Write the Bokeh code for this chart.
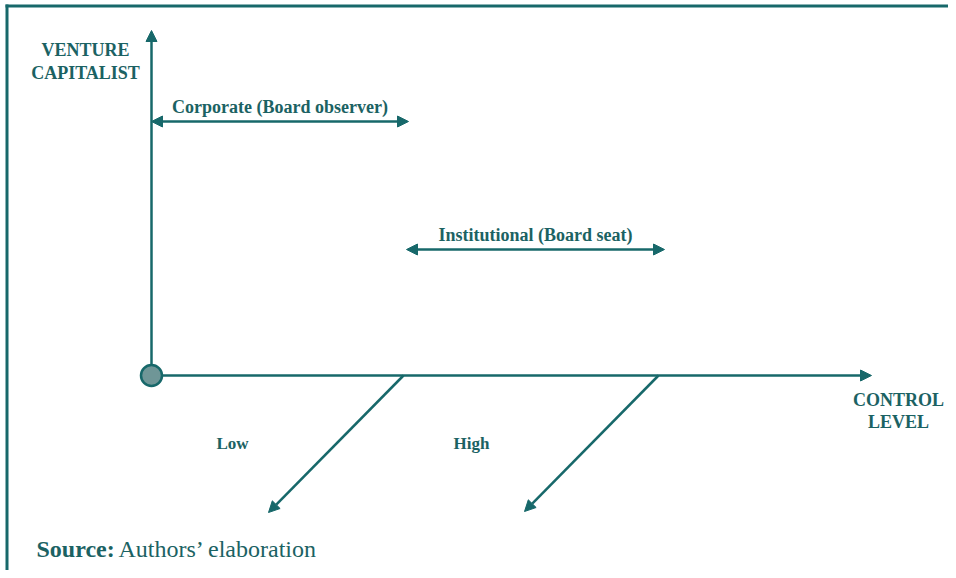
from bokeh.plotting import figure
from bokeh.models import Range1d, Arrow, NormalHead
from bokeh.core.properties import value
from bokeh.embed import file_html
from bokeh.resources import INLINE

# ---- diagram data (origin = intersection of the two axes) ----
axis_x_end = [0, 720]          # control level axis (x from, x to)
axis_y_end = [0, 345]          # venture capitalist axis (y from, y to)

range_labels = ["Corporate (Board observer)", "Institutional (Board seat)"]
range_x0 = [0, 255]
range_x1 = [257, 513]
range_y = [254, 126]

diag_x0 = [252, 507]
diag_y0 = [0, 0]
diag_x1 = [117, 373]
diag_y1 = [-137, -136]

level_labels = ["Low", "High"]
level_x = [81, 320]
level_y = [-68, -68]

y_title = ["VENTURE", "CAPITALIST"]
y_title_x = [-66, -66]
y_title_y = [326, 303]

x_title = ["CONTROL", "LEVEL"]
x_title_x = [747, 747]
x_title_y = [-24, -46]

source_bold = "Source:"
source_text = "Authors\u2019 elaboration"

TEAL = "#17686a"
TXT = "#1b6263"
FONT = value("'Liberation Serif', 'Times New Roman', serif")

p = figure(width=948, height=570, output_backend="svg", toolbar_location=None,
           x_range=Range1d(-151, 797), y_range=Range1d(-195, 375),
           min_border=0)
p.axis.visible = False
p.grid.visible = False
p.outline_line_color = None
p.background_fill_color = "white"

# frame (top and left border)
p.segment(x0=[-146, -144.5], y0=[369.5, 371], x1=[797, -144.5], y1=[369.5, -195],
          line_color=TEAL, line_width=3)

def head():
    return NormalHead(size=11, line_color=TEAL, fill_color=TEAL, line_width=1)

# axes
p.add_layout(Arrow(x_start=axis_x_end[0], y_start=0, x_end=axis_x_end[1], y_end=0,
                   line_color=TEAL, line_width=2.5, end=head()))
p.add_layout(Arrow(x_start=0, y_start=axis_y_end[0], x_end=0, y_end=axis_y_end[1],
                   line_color=TEAL, line_width=2.5, end=head()))

# double-headed range arrows
for x0, x1, y in zip(range_x0, range_x1, range_y):
    p.add_layout(Arrow(x_start=x0, y_start=y, x_end=x1, y_end=y,
                       line_color=TEAL, line_width=2.5, start=head(), end=head()))

# diagonal arrows
for x0, y0, x1, y1 in zip(diag_x0, diag_y0, diag_x1, diag_y1):
    p.add_layout(Arrow(x_start=x0, y_start=y0, x_end=x1, y_end=y1,
                       line_color=TEAL, line_width=2.5, end=head()))

# origin circle (drawn above the axes)
c = p.scatter(x=[0], y=[0], size=21, marker="circle", fill_color="#6f9697",
              line_color=TEAL, line_width=2.5)
c.level = "overlay"

# labels
lab_x = [(a + b) / 2 for a, b in zip(range_x0, range_x1)]
lab_y = [y + 15 for y in range_y]
p.text(x=lab_x, y=lab_y, text=range_labels, text_font=FONT, text_font_style="bold",
       text_font_size="18px", text_color=TXT, text_align="center", text_baseline="middle")
p.text(x=level_x, y=level_y, text=level_labels, text_font=FONT, text_font_style="bold",
       text_font_size="17px", text_color=TXT, text_align="center", text_baseline="middle")
p.text(x=y_title_x, y=y_title_y, text=y_title, text_font=FONT, text_font_style="bold",
       text_font_size="18px", text_color=TXT, text_align="center", text_baseline="middle")
p.text(x=x_title_x, y=x_title_y, text=x_title, text_font=FONT, text_font_style="bold",
       text_font_size="18px", text_color=TXT, text_align="center", text_baseline="middle")

p.text(x=[-115], y=[-173], text=[source_bold], text_font=FONT, text_font_style="bold",
       text_font_size="24px", text_color=TXT, text_align="left", text_baseline="middle")
p.text(x=[-33], y=[-173], text=[source_text], text_font=FONT, text_font_style="normal",
       text_font_size="24px", text_color=TXT, text_align="left", text_baseline="middle")

open("out.html", "w").write(file_html(p, INLINE))
